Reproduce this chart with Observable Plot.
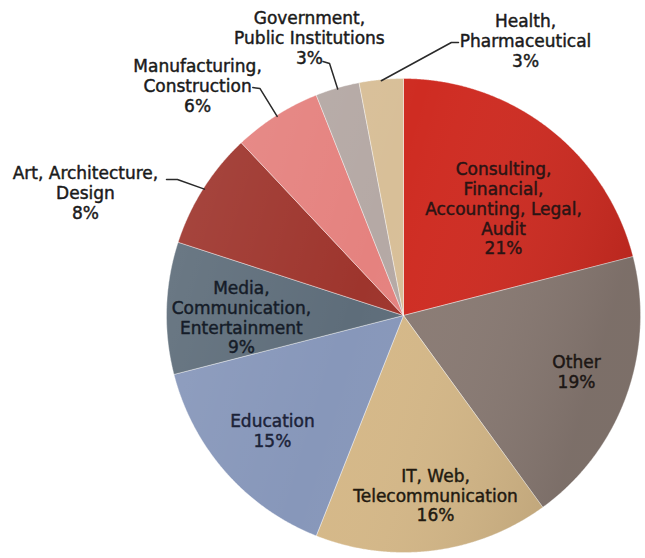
<!DOCTYPE html>
<html><head><meta charset="utf-8">
<script src="https://cdn.jsdelivr.net/npm/d3@7"></script>
<script src="https://cdn.jsdelivr.net/npm/@observablehq/plot@0.6"></script>
<style>body{margin:0;background:#fff;} #chart{width:645px;height:558px;}</style>
</head><body><div id="chart"></div>
<script>
// ---- data ----
const categories = [
  "Consulting,\nFinancial,\nAccounting, Legal,\nAudit",
  "Other",
  "IT, Web,\nTelecommunication",
  "Education",
  "Media,\nCommunication,\nEntertainment",
  "Art, Architecture,\nDesign",
  "Manufacturing,\nConstruction",
  "Government,\nPublic Institutions",
  "Health,\nPharmaceutical"
];
const shares = [21, 19, 16, 15, 9, 8, 6, 3, 3];

// ---- style / layout (not data) ----
const colors = ["#cf2c22", "#8a7b74", "#d5b888", "#8797ba", "#5e6d7a", "#9e352d", "#e5827f", "#b5a9a5", "#d8bf98"];
const textColors = ["#2a1414", "#1c1614", "#221a10", "#1b2238", "#151c28", "#1a1a1a", "#1a1a1a", "#1a1a1a", "#1a1a1a"];
const labelPos = [[0.422, 0.451], [0.730, -0.236], [0.135, -0.759], [-0.553, -0.485], [-0.684, -0.008],
                  [-1.342, 0.519], [-0.869, 0.970], [-0.397, 1.173], [0.515, 1.160]];
const leaders = {5: [[-1.000, 0.574], [-0.954, 0.574]],
                 6: [[-0.636, 0.962], [-0.606, 0.958]],
                 7: [[-0.340, 1.072], [-0.312, 1.063]],
                 8: [[0.232, 1.152], [0.202, 1.152]]};

const W = 645, H = 558, CX = 403, CY = 315, R = 237;

const arcs = d3.pie().sort(null)(shares);
const slicePts = [];
arcs.forEach((a, i) => {
  const cat = categories[i];
  slicePts.push({x: 0, y: 0, cat});
  const n = Math.max(4, Math.ceil((a.endAngle - a.startAngle) / 0.005));
  for (let j = 0; j <= n; j++) {
    const t = a.startAngle + (a.endAngle - a.startAngle) * j / n;
    slicePts.push({x: Math.sin(t), y: Math.cos(t), cat});
  }
  slicePts.push({x: 0, y: 0, cat});
});
const circlePts = d3.range(0, 721).map(j => { const t = j / 720 * 2 * Math.PI; return {x: Math.sin(t), y: Math.cos(t)}; });

const labels = categories.map((c, i) => ({text: c + "\n" + shares[i] + "%", x: labelPos[i][0], y: labelPos[i][1], k: i}));
const leaderPts = [];
Object.entries(leaders).forEach(([i, pts]) => {
  const a = arcs[+i]; const m = (a.startAngle + a.endAngle) / 2;
  pts.forEach(p => leaderPts.push({x: p[0], y: p[1], k: "L" + i}));
  leaderPts.push({x: Math.sin(m) * 0.995, y: Math.cos(m) * 0.995, k: "L" + i});
});

const svg = Plot.plot({
  width: W, height: H,
  marginTop: 0, marginBottom: 0, marginLeft: 0, marginRight: 0,
  x: {domain: [-CX / R, (W - CX) / R], range: [0, W], axis: null},
  y: {domain: [-(H - CY) / R, CY / R], range: [H, 0], axis: null},
  color: {type: "ordinal", domain: categories, range: colors},
  marks: [
    Plot.line(circlePts, {x: "x", y: "y", fill: "#555", stroke: "none", ariaLabel: "shadow"}),
    Plot.line(slicePts, {x: "x", y: "y", z: "cat", fill: "cat", stroke: "#ffffff", strokeWidth: 0.8, strokeOpacity: 0.5, curve: "linear"}),
    Plot.line(circlePts, {x: "x", y: "y", fill: "url(#shade)", stroke: "none"}),
    Plot.line(leaderPts, {x: "x", y: "y", z: "k", stroke: "#2a2a2a", strokeWidth: 1.5, curve: "linear"}),
    Plot.text(labels, {x: "x", y: "y", text: "text", fill: d => textColors[d.k], stroke: d => textColors[d.k], strokeWidth: 0.45,
      fontSize: 17, fontFamily: "DejaVu Sans", lineHeight: 1.16, lineAnchor: "middle", textAnchor: "middle"})
  ]
});

const s = d3.select(svg);
const defs = s.insert("defs", ":first-child");
const g = defs.append("linearGradient").attr("id", "shade").attr("x1", 0).attr("y1", 0).attr("x2", 1).attr("y2", 0.3);
g.append("stop").attr("offset", 0).attr("stop-color", "#fff").attr("stop-opacity", 0.10);
g.append("stop").attr("offset", 0.5).attr("stop-color", "#fff").attr("stop-opacity", 0);
g.append("stop").attr("offset", 1).attr("stop-color", "#000").attr("stop-opacity", 0.10);
const f = defs.append("filter").attr("id", "blur").attr("x", "-20%").attr("y", "-20%").attr("width", "140%").attr("height", "140%");
f.append("feGaussianBlur").attr("stdDeviation", 4);
s.select('[aria-label="shadow"]').attr("filter", "url(#blur)").attr("transform", "translate(1,3)").attr("opacity", 0.55);

document.getElementById("chart").appendChild(svg);
</script>
</body></html>
